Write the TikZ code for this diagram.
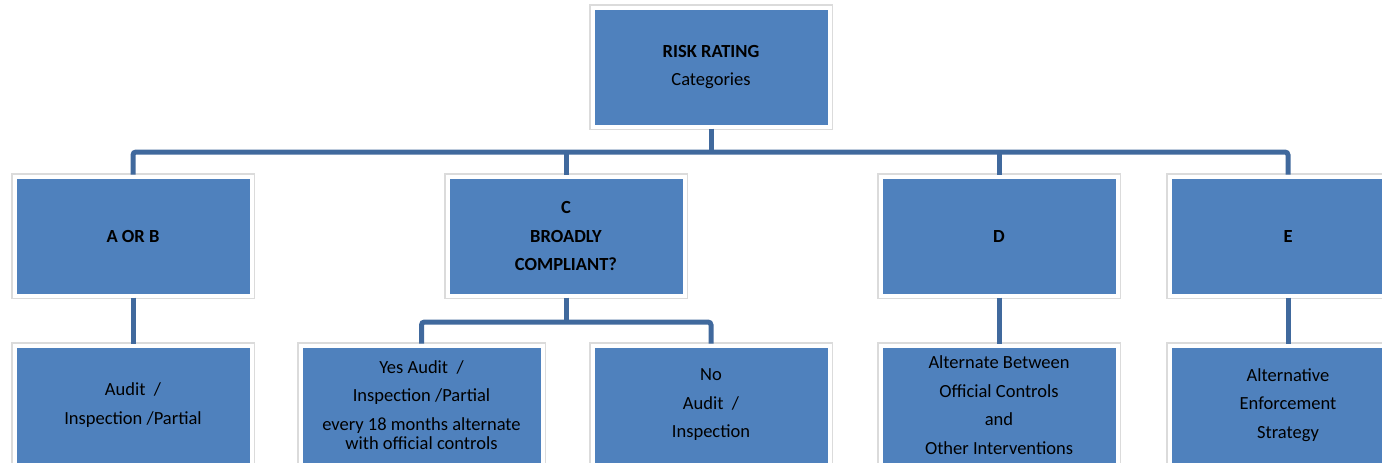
\documentclass[tikz,border=0pt]{standalone}
\usepackage{fontspec}
\setmainfont{Carlito}
\usepackage{tikz}

\definecolor{boxblue}{HTML}{4F81BD}
\definecolor{linkblue}{HTML}{40699D}

\begin{document}
\begin{tikzpicture}[x=1pt, y=-1pt,
  catbox/.style={rectangle, fill=boxblue, draw=white, line width=4pt,
    preaction={draw=black!14, line width=6.5pt},
    minimum width=237pt, minimum height=119pt, inner sep=0pt,
    align=center, font=\fontsize{18.5}{28.5}\selectfont\bfseries},
  actbox/.style={catbox, font=\fontsize{18.5}{28.5}\selectfont},
  link/.style={draw=linkblue, line width=5pt, rounded corners=3pt}]

% Page frame
\clip (0,0) rectangle (1382,463);

% Top of the tree
\node[catbox] (top) at (711,67) {RISK RATING\\\mdseries Categories};

% Rating categories
\node[catbox] (ab) at (133,236) {A OR B};
\node[catbox] (c) at (566,236) {C\\BROADLY\\COMPLIANT?};
\node[catbox] (d) at (999,236) {D};
\node[catbox] (e) at (1288,236) {E};

% What each category gets
\node[actbox] (abact) at (133,405) {Audit \ /\\Inspection /Partial};
\node[actbox, minimum width=242pt] (yes) at (421.5,405)
  {Yes Audit \ /\\Inspection /Partial\\every 18 months alternate\\[-9pt]with official controls};
\node[actbox] (no) at (711,405) {No\\Audit \ /\\Inspection};
\node[actbox] (dact) at (999,405) {Alternate Between\\Official Controls\\and\\Other Interventions};
\node[actbox] (eact) at (1288,405) {Alternative\\Enforcement\\Strategy};

% Connectors
\coordinate (bus) at (711,152);
\coordinate (cbus) at (566,322);
\draw[link] (top.south) -- (bus);
\draw[link] (ab.north) |- (bus) -| (e.north);
\draw[link] (c.north) -- (c.north |- bus);
\draw[link] (d.north) -- (d.north |- bus);

\draw[link] (ab.south) -- (abact.north);
\draw[link] (c.south) -- (cbus);
\draw[link] (yes.north) |- (cbus) -| (no.north);
\draw[link] (d.south) -- (dact.north);
\draw[link] (e.south) -- (eact.north);

\end{tikzpicture}
\end{document}
